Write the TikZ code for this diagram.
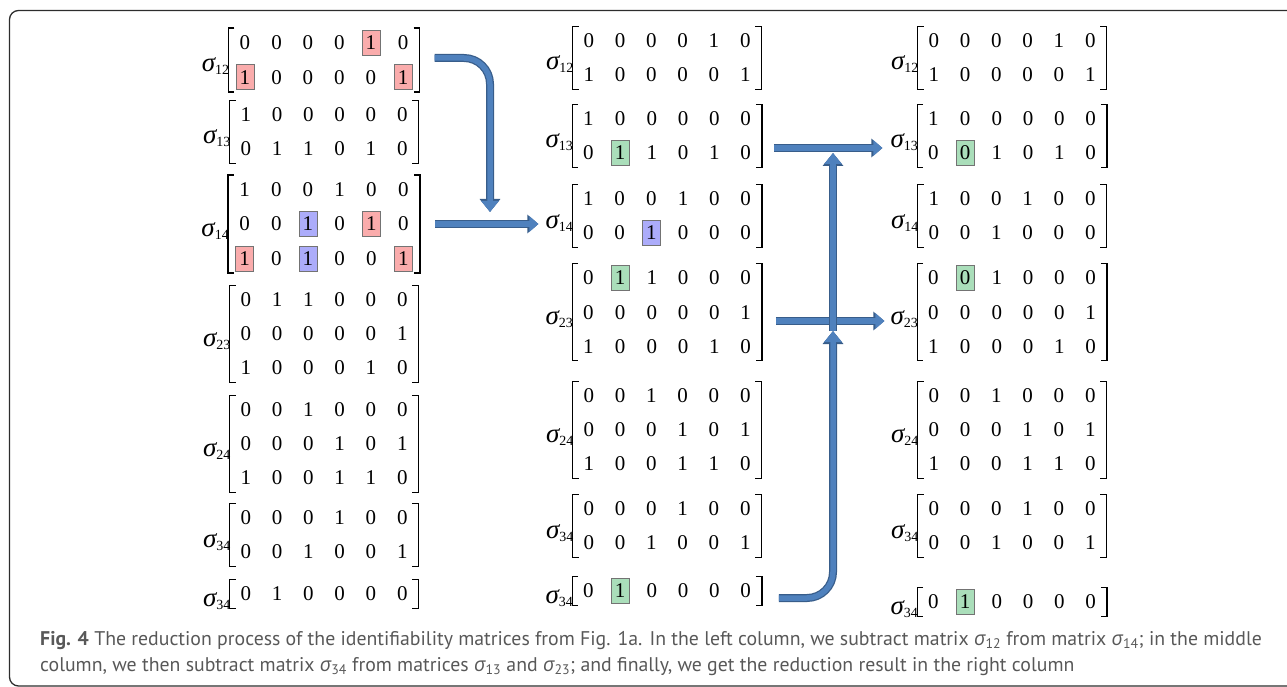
\documentclass[tikz,border=0pt]{standalone}
\usepackage{fontspec}
\setmainfont{Liberation Serif}
\newfontfamily\capfont{PT Sans}
\newfontfamily\capgreek{Open Sans}
\usepackage{xcolor}
\usepackage{tikz}
\usetikzlibrary{matrix,arrows.meta}
\definecolor{arrfill}{RGB}{79,129,189}
\definecolor{arredge}{RGB}{56,93,138}
\definecolor{hlred}{RGB}{250,172,172}
\definecolor{hlblue}{RGB}{172,172,250}
\definecolor{hlgreen}{RGB}{170,222,186}
\definecolor{hledge}{RGB}{115,115,115}
\definecolor{capgray}{RGB}{88,88,88}
\definecolor{framegray}{RGB}{45,45,45}

% sigma label with subscript
\newcommand{\sgm}[1]{{\fontsize{27}{27}\selectfont\itshape σ}\raisebox{-3pt}{\fontsize{14}{14}\selectfont #1}}
% sigma in the caption
\newcommand{\csig}[1]{{\capgreek\itshape σ}\textsubscript{#1}}
% one matrix: name, centre, index, rows
\newcommand{\idmat}[4]{%
  \matrix[idm] (#1) at (#2) {#4};
  \draw[brk] ([xshift=6pt]#1.north west) -- (#1.north west) -- (#1.south west) -- ([xshift=6pt]#1.south west);
  \draw[brk] ([xshift=-6pt]#1.north east) -- (#1.north east) -- (#1.south east) -- ([xshift=-6pt]#1.south east);
  \node[siglab] (#1l) at ([xshift=1pt,yshift=-12pt]#1.west) {\sgm{#3}};
}

\tikzset{
  idm/.style={matrix of nodes, ampersand replacement=\&,
    inner xsep=7pt, inner ysep=1.5pt, column sep=13.3pt, row sep=9pt,
    nodes={minimum width=18pt, minimum height=25pt, inner sep=0pt}},
  brk/.style={draw=black, line width=1.3pt},
  siglab/.style={anchor=base east, inner sep=0pt},
  hlr/.style={fill=hlred, draw=hledge, line width=0.8pt},
  hlb/.style={fill=hlblue, draw=hledge, line width=0.8pt},
  hlg/.style={fill=hlgreen, draw=hledge, line width=0.8pt},
  flow/.style 2 args={draw=arrfill, line width=5.5pt, rounded corners=26pt,
    -{Triangle[length=#1,width=#2]},
    preaction={draw=arredge, line width=8pt, -{Triangle[length=#1+2pt,width=#2+3pt]}}},
  caption/.style={anchor=north west, align=left, text=capgray, inner sep=0pt,
    font=\capfont\fontsize{19.8}{26}\selectfont},
}

\begin{document}
\begin{tikzpicture}[x=1pt,y=-1pt,font=\fontsize{21}{25}\selectfont]
  \useasboundingbox (0,0) rectangle (1287,687);
  % figure frame, open on the right
  \draw[framegray, line width=1.3pt, rounded corners=9pt] (1287,10.5) -- (9.5,10.5) -- (9.5,686) -- (1287,686);

  % left column
  \idmat{L12}{324,60}{12}{0\&0\&0\&0\&|[hlr]|1\&0\\ |[hlr]|1\&0\&0\&0\&0\&|[hlr]|1\\}
  \idmat{L13}{324,132}{13}{1\&0\&0\&0\&0\&0\\ 0\&1\&1\&0\&1\&0\\}
  \idmat{L14}{324,224}{14}{1\&0\&0\&1\&0\&0\\ 0\&0\&|[hlb]|1\&0\&|[hlr]|1\&0\\ |[hlr]|1\&0\&|[hlb]|1\&0\&0\&|[hlr]|1\\}
  \idmat{L23}{324,334}{23}{0\&1\&1\&0\&0\&0\\ 0\&0\&0\&0\&0\&1\\ 1\&0\&0\&0\&1\&0\\}
  \idmat{L24}{324,444}{24}{0\&0\&1\&0\&0\&0\\ 0\&0\&0\&1\&0\&1\\ 1\&0\&0\&1\&1\&0\\}
  \idmat{L34}{324,535}{34}{0\&0\&0\&1\&0\&0\\ 0\&0\&1\&0\&0\&1\\}
  \idmat{L34b}{324,594}{34}{0\&1\&0\&0\&0\&0\\}

  % middle column
  \idmat{M12}{667,58}{12}{0\&0\&0\&0\&1\&0\\ 1\&0\&0\&0\&0\&1\\}
  \idmat{M13}{667,136}{13}{1\&0\&0\&0\&0\&0\\ 0\&|[hlg]|1\&1\&0\&1\&0\\}
  \idmat{M14}{667,216}{14}{1\&0\&0\&1\&0\&0\\ 0\&0\&|[hlb]|1\&0\&0\&0\\}
  \idmat{M23}{667,312}{23}{0\&|[hlg]|1\&1\&0\&0\&0\\ 0\&0\&0\&0\&0\&1\\ 1\&0\&0\&0\&1\&0\\}
  \idmat{M24}{667,430}{24}{0\&0\&1\&0\&0\&0\\ 0\&0\&0\&1\&0\&1\\ 1\&0\&0\&1\&1\&0\\}
  \idmat{M34}{667,526}{34}{0\&0\&0\&1\&0\&0\\ 0\&0\&1\&0\&0\&1\\}
  \idmat{M34b}{667,591}{34}{0\&|[hlg]|1\&0\&0\&0\&0\\}

  % right column
  \idmat{R12}{1012,58}{12}{0\&0\&0\&0\&1\&0\\ 1\&0\&0\&0\&0\&1\\}
  \idmat{R13}{1012,136}{13}{1\&0\&0\&0\&0\&0\\ 0\&|[hlg]|0\&1\&0\&1\&0\\}
  \idmat{R14}{1012,216}{14}{1\&0\&0\&1\&0\&0\\ 0\&0\&1\&0\&0\&0\\}
  \idmat{R23}{1012,312}{23}{0\&|[hlg]|0\&1\&0\&0\&0\\ 0\&0\&0\&0\&0\&1\\ 1\&0\&0\&0\&1\&0\\}
  \idmat{R24}{1012,430}{24}{0\&0\&1\&0\&0\&0\\ 0\&0\&0\&1\&0\&1\\ 1\&0\&0\&1\&1\&0\\}
  \idmat{R34}{1012,526}{34}{0\&0\&0\&1\&0\&0\\ 0\&0\&1\&0\&0\&1\\}
  \idmat{R34b}{1012,602}{34}{0\&|[hlg]|1\&0\&0\&0\&0\\}

  % arrows
  \coordinate (a1end) at (490,212);
  \coordinate (mid5) at (833,331);
  \coordinate (top5) at (833,153);
  \draw[flow={11pt}{17pt}] ([shift={(15pt,2pt)}]L12.east) -| (a1end);
  \draw[flow={9pt}{15pt}] ([xshift=15pt]L14.east) -- ([xshift=-7pt]M14l.west |- L14.east);
  \draw[flow={9pt}{15pt}] ([shift={(12pt,-12pt)}]M13.east) coordinate (a3s) -- ([xshift=-8pt]R13l.west |- a3s);
  \draw[flow={9pt}{15pt}] ([shift={(14pt,-9pt)}]M23.east) coordinate (a4s) -- ([xshift=-6pt]R23l.west |- a4s);
  \draw[flow={11pt}{17pt}] (mid5) -- (top5);
  \draw[flow={11pt}{17pt}] ([shift={(17pt,-7pt)}]M34b.east) -| (mid5);

  % caption
  \node[caption] (cap) at (40,631) {\textbf{Fig. 4} The reduction process of the identifiability matrices from Fig. 1a. In the left column, we subtract matrix \csig{12} from matrix \csig{14}; in the middle\\
    column, we then subtract matrix \csig{34} from matrices \csig{13} and \csig{23}; and finally, we get the reduction result in the right column};
\end{tikzpicture}
\end{document}
